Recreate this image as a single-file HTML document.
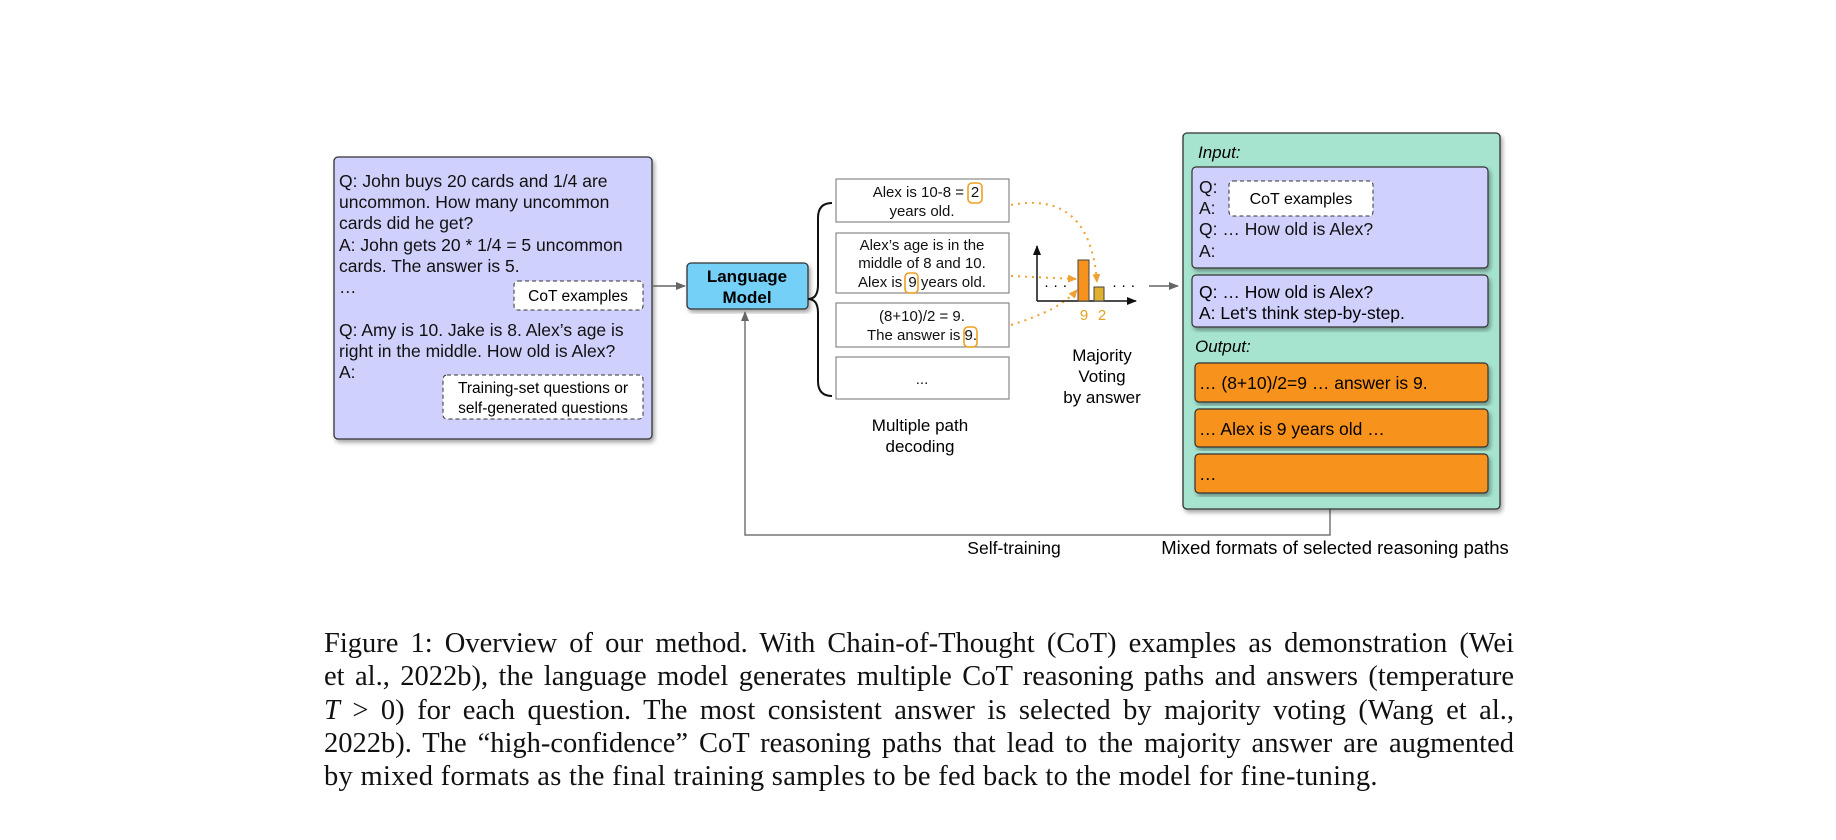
<!DOCTYPE html>
<html><head><meta charset="utf-8"><style>
body{margin:0;background:#fff;width:1836px;height:840px;overflow:hidden;position:relative}
svg{position:absolute;left:0;top:0}
.cap{position:absolute;left:324px;top:627px;width:1190px;font-family:"Liberation Serif",serif;font-size:28.5px;line-height:33.3px;color:#111}
.cap div{text-align:justify;text-align-last:justify;white-space:nowrap}
.cap div.l{text-align-last:left;letter-spacing:0.3px}
</style></head><body>
<svg width="1836" height="840" viewBox="0 0 1836 840" font-family="Liberation Sans, sans-serif">
<defs>
<filter id="sh" x="-5%" y="-5%" width="115%" height="115%"><feDropShadow dx="2" dy="3" stdDeviation="2" flood-opacity="0.35"/></filter>
<marker id="ar" markerWidth="10" markerHeight="8" refX="9" refY="4" orient="auto" markerUnits="userSpaceOnUse"><path d="M0,0 L10,4 L0,8z" fill="#666"/></marker>
<marker id="ab" markerWidth="10" markerHeight="8" refX="9" refY="4" orient="auto" markerUnits="userSpaceOnUse"><path d="M0,0 L10,4 L0,8z" fill="#111"/></marker>
<marker id="ao" markerWidth="9" markerHeight="8" refX="8" refY="4" orient="auto" markerUnits="userSpaceOnUse"><path d="M0,0 L9,4 L0,8z" fill="#f0a030"/></marker>
</defs>
<rect x="334" y="157" width="318" height="282" rx="4" fill="#d0d0fc" stroke="#333" stroke-width="1.3" filter="url(#sh)"/>
<g font-size="17.5" fill="#111">
<text x="339" y="187">Q: John buys 20 cards and 1/4 are</text>
<text x="339" y="208">uncommon. How many uncommon</text>
<text x="339" y="229">cards did he get?</text>
<text x="339" y="251">A: John gets 20 * 1/4 = 5 uncommon</text>
<text x="339" y="272">cards. The answer is 5.</text>
<text x="339" y="293">…</text>
<text x="339" y="336">Q: Amy is 10. Jake is 8. Alex’s age is</text>
<text x="339" y="357">right in the middle. How old is Alex?</text>
<text x="339" y="378">A:</text>
</g>
<rect x="514" y="281" width="129" height="29" rx="4" fill="#fff" stroke="#333" stroke-dasharray="4,3"/>
<text x="578" y="301" font-size="15.5" text-anchor="middle">CoT examples</text>
<rect x="443" y="375" width="200" height="44" rx="4" fill="#fff" stroke="#333" stroke-dasharray="4,3"/>
<text x="543" y="393" font-size="15.5" text-anchor="middle">Training-set questions or</text>
<text x="543" y="413" font-size="15.5" text-anchor="middle">self-generated questions</text>
<line x1="652" y1="286" x2="685" y2="286" stroke="#666" stroke-width="1.5" marker-end="url(#ar)"/>
<rect x="687" y="263" width="121" height="46" rx="4" fill="#74d0f8" stroke="#333" stroke-width="1.3" filter="url(#sh)"/>
<text x="747" y="282" font-size="17" font-weight="bold" text-anchor="middle">Language</text>
<text x="747" y="303" font-size="17" font-weight="bold" text-anchor="middle">Model</text>
<polyline points="1330,509 1330,535 745,535 745,312" fill="none" stroke="#777" stroke-width="1.5" marker-end="url(#ar)"/>
<path d="M832,203 Q818,203 818,218 L818,285 Q818,299 808,299 Q818,299 818,313 L818,381 Q818,396 832,396" fill="none" stroke="#111" stroke-width="2"/>
<g fill="#fff" stroke="#888" stroke-width="1.2">
<rect x="836" y="179" width="173" height="43"/>
<rect x="836" y="233" width="173" height="60"/>
<rect x="836" y="303" width="173" height="44"/>
<rect x="836" y="357" width="173" height="42"/>
</g>
<g font-size="15" text-anchor="middle" fill="#111">
<text x="964" y="197" text-anchor="end">Alex is 10-8 =</text>
<text x="975" y="197">2</text>
<text x="922" y="216">years old.</text>
<text x="922" y="250">Alex’s age is in the</text>
<text x="922" y="268">middle of 8 and 10.</text>
<text x="922" y="287">Alex is <tspan dx="2">9</tspan> years old.</text>
<text x="922" y="321">(8+10)/2 = 9.</text>
<text x="922" y="340">The answer is 9.</text>
<text x="922" y="384">...</text>
</g>
<g fill="none" stroke="#f0a020" stroke-width="1.6">
<rect x="968" y="183" width="14" height="20" rx="4"/>
<rect x="905" y="273" width="13" height="20" rx="4"/>
<rect x="964" y="327" width="13" height="20" rx="4"/>
</g>
<g fill="none" stroke="#f0a030" stroke-width="2" stroke-dasharray="2,5">
<path d="M1011,205 Q1090,190 1097,282" marker-end="url(#ao)"/>
<path d="M1011,276 L1076,279" marker-end="url(#ao)"/>
<path d="M1011,325 Q1060,310 1077,290" marker-end="url(#ao)"/>
</g>
<text x="920" y="431" font-size="17" text-anchor="middle">Multiple path</text>
<text x="920" y="452" font-size="17" text-anchor="middle">decoding</text>
<line x1="1037" y1="301" x2="1037" y2="246" stroke="#111" stroke-width="1.5" marker-end="url(#ab)"/>
<line x1="1037" y1="301" x2="1136" y2="301" stroke="#111" stroke-width="1.5" marker-end="url(#ab)"/>
<rect x="1078" y="260" width="11" height="41" fill="#f7921e" stroke="#444" stroke-width="1"/>
<rect x="1094" y="287" width="10" height="14" fill="#e0b030" stroke="#444" stroke-width="1"/>
<text x="1044" y="290" font-size="15">· · ·</text>
<text x="1112" y="290" font-size="15">· · ·</text>
<text x="1084" y="320" font-size="15" fill="#e8a020" text-anchor="middle">9</text>
<text x="1102" y="320" font-size="15" fill="#e8a020" text-anchor="middle">2</text>
<text x="1102" y="361" font-size="17" text-anchor="middle">Majority</text>
<text x="1102" y="382" font-size="17" text-anchor="middle">Voting</text>
<text x="1102" y="403" font-size="17" text-anchor="middle">by answer</text>
<line x1="1149" y1="286" x2="1178" y2="286" stroke="#666" stroke-width="1.5" marker-end="url(#ar)"/>
<rect x="1183" y="133" width="317" height="376" rx="4" fill="#a6e4d0" stroke="#333" stroke-width="1.3" filter="url(#sh)"/>
<text x="1198" y="158" font-size="17" font-style="italic">Input:</text>
<rect x="1192" y="167" width="296" height="101" rx="4" fill="#d0d0fc" stroke="#333" stroke-width="1.2" filter="url(#sh)"/>
<rect x="1229" y="181" width="144" height="35" rx="4" fill="#fff" stroke="#333" stroke-dasharray="4,3"/>
<text x="1301" y="204" font-size="16" text-anchor="middle">CoT examples</text>
<g font-size="17.5" fill="#111">
<text x="1199" y="193">Q:</text>
<text x="1199" y="214">A:</text>
<text x="1199" y="235">Q: … How old is Alex?</text>
<text x="1199" y="257">A:</text>
</g>
<rect x="1192" y="275" width="296" height="52" rx="4" fill="#d0d0fc" stroke="#333" stroke-width="1.2" filter="url(#sh)"/>
<text x="1199" y="298" font-size="17.5">Q: … How old is Alex?</text>
<text x="1199" y="319" font-size="17.5">A: Let’s think step-by-step.</text>
<text x="1195" y="352" font-size="17" font-style="italic">Output:</text>
<g fill="#f7921e" stroke="#333" stroke-width="1.2">
<rect x="1195" y="363" width="293" height="39" rx="4" filter="url(#sh)"/>
<rect x="1195" y="409" width="293" height="38" rx="4" filter="url(#sh)"/>
<rect x="1195" y="454" width="293" height="39" rx="4" filter="url(#sh)"/>
</g>
<text x="1199" y="389" font-size="17.5">… (8+10)/2=9 … answer is 9.</text>
<text x="1199" y="435" font-size="17.5">… Alex is 9 years old …</text>
<text x="1199" y="480" font-size="17.5">…</text>
<text x="1014" y="554" font-size="17.5" text-anchor="middle">Self-training</text>
<text x="1335" y="554" font-size="18.5" text-anchor="middle">Mixed formats of selected reasoning paths</text>
</svg>
<div class="cap">
<div>Figure 1: Overview of our method. With Chain-of-Thought (CoT) examples as demonstration (Wei</div>
<div>et al., 2022b), the language model generates multiple CoT reasoning paths and answers (temperature</div>
<div><i>T</i> &gt; 0) for each question. The most consistent answer is selected by majority voting (Wang et al.,</div>
<div>2022b). The “high-confidence” CoT reasoning paths that lead to the majority answer are augmented</div>
<div class="l">by mixed formats as the final training samples to be fed back to the model for fine-tuning.</div>
</div>
</body></html>
